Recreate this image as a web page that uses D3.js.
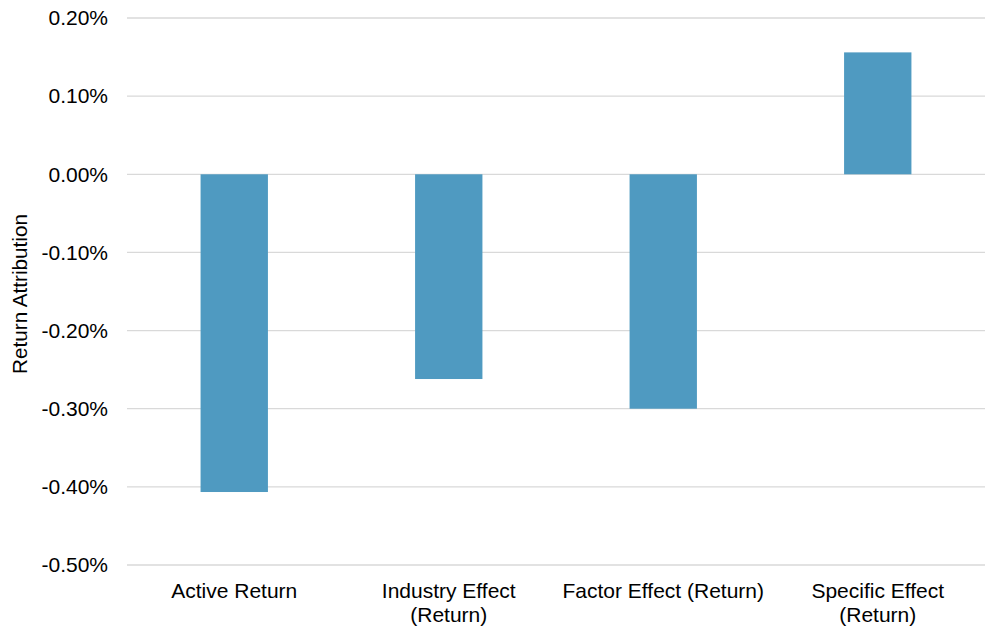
<!DOCTYPE html>
<html>
<head>
<meta charset="utf-8">
<script src="https://cdn.jsdelivr.net/npm/d3@7"></script>
<style>
html,body{margin:0;padding:0;background:#fff;}
svg{display:block;font-family:"Liberation Sans",Arial,sans-serif;}
</style>
</head>
<body>
<svg id="chart" width="988" height="627"></svg>
<script>
const categories = [["Active Return"], ["Industry Effect", "(Return)"], ["Factor Effect (Return)"], ["Specific Effect", "(Return)"]];
const values = [-0.4066, -0.262, -0.300, 0.156];
const tickValues = [0.2, 0.1, 0, -0.1, -0.2, -0.3, -0.4, -0.5];

(function () {
const FONT = "Liberation Sans, Arial, sans-serif";
const svg = d3.select("#chart");
const mLeft = 127, mRight = 985, mTop = 18, mBottom = 565;

const x = d3.scaleBand()
  .domain(categories.map((c, i) => i))
  .range([mLeft, mRight])
  .paddingInner(0.686)
  .paddingOuter(0.343);

const y = d3.scaleLinear().domain([-0.5, 0.2]).range([mBottom, mTop]);

// gridlines
svg.append("g")
  .selectAll("line")
  .data(tickValues)
  .join("line")
  .attr("x1", mLeft).attr("x2", mRight)
  .attr("y1", d => y(d)).attr("y2", d => y(d))
  .attr("stroke", "#d9d9d9").attr("stroke-width", 1.3);

// y axis labels
const fmt = d3.format(".2f");
const yAxis = d3.axisLeft(y).tickValues(tickValues).tickSize(0).tickPadding(0)
  .tickFormat(d => fmt(d).replace("\u2212", "-") + "%");
const gy = svg.append("g").attr("transform", "translate(108,0)").call(yAxis);
gy.attr("font-family", FONT).attr("font-size", 21);
gy.select(".domain").remove();
gy.selectAll("text").attr("fill", "#000").attr("dy", "0.32em");

// bars
svg.append("g")
  .selectAll("rect")
  .data(values)
  .join("rect")
  .attr("x", (d, i) => x(i))
  .attr("width", x.bandwidth())
  .attr("y", d => y(Math.max(0, d)))
  .attr("height", d => Math.abs(y(d) - y(0)))
  .attr("fill", "#4f9ac1");

// x labels
const gx = svg.append("g").attr("font-family", FONT).attr("font-size", 21);
categories.forEach((lines, i) => {
  const cx = x(i) + x.bandwidth() / 2;
  const t = gx.append("text")
    .attr("x", cx)
    .attr("y", 598)
    .attr("text-anchor", "middle")
    .attr("fill", "#000");
  lines.forEach((l, j) => {
    t.append("tspan").attr("x", cx).attr("dy", j === 0 ? 0 : 23.5).text(l);
  });
});

// y title
svg.append("text")
  .attr("transform", "translate(27,294) rotate(-90)")
  .attr("text-anchor", "middle")
  .attr("font-family", FONT)
  .attr("font-size", 20.7)
  .attr("fill", "#000")
  .text("Return Attribution");
})();
</script>
</body>
</html>
